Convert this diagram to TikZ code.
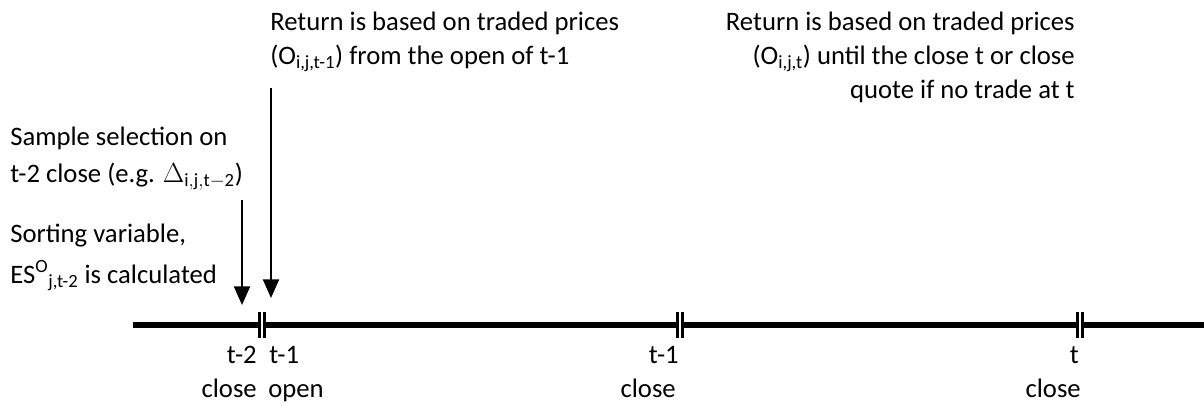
\documentclass[tikz,border=0pt]{standalone}
\usepackage{fontspec}
\setmainfont{Carlito}
\usetikzlibrary{arrows.meta}
\begin{document}
\begin{tikzpicture}[x=0.75pt, y=-0.75pt,
  txt/.style={inner sep=0pt, font=\fontsize{20}{24}\selectfont},
  pointer/.style={-{Triangle[length=14pt, width=12pt]}, line width=1.6pt},
  timeline/.style={line width=4.5pt},
  bar/.style={line width=1.8pt}
]
\useasboundingbox (0,0) rectangle (1204,405);
% time axis
\coordinate (start) at (133,325);
\coordinate (stop) at (1204,325);
\draw[timeline] (start) -- (stop);
% double ticks on the axis
\foreach \name/\x in {open/262, prevclose/680, close/1080} {
  \coordinate (\name) at (\x,325);
  \fill[white] (\x-1.2,310) rectangle (\x+1.2,340);
  \draw[bar] (\x-2.5,312) -- (\x-2.5,338);
  \draw[bar] (\x+2.5,312) -- (\x+2.5,338);
}
% labels under the axis
\node[txt, anchor=base east] (lt2) at (257,363) {t-2};
\node[txt, anchor=base east] (lc2) at (257,397) {close};
\node[txt, anchor=base west] (lt1) at (269,363) {t-1};
\node[txt, anchor=base west] (lopen) at (268,397) {open};
\node[txt, anchor=base east] (lt1c) at (679,363) {t-1};
\node[txt, anchor=base east] (lc1) at (676,397) {close};
\node[txt, anchor=base east] (lt) at (1079,363) {t};
\node[txt, anchor=base east] (lc) at (1081,397) {close};
% left notes
\node[txt, anchor=base west] (sel1) at (10,145) {Sample selection on};
\node[txt, anchor=base west] (sel2) at (10,182) {t-2 close (e.g. $\Delta_{\mathrm{i,j,t-2}}$)};
\node[txt, anchor=base west] (sort1) at (10,242) {Sorting variable,};
\node[txt, anchor=base west] (sort2) at (10,283) {ES\textsuperscript{O}\textsubscript{j,t-2} is calculated};
% notes at the top
\node[txt, anchor=base west] (ret1) at (270,30) {Return is based on traded prices};
\node[txt, anchor=base west] (ret2) at (270,64) {(O\textsubscript{i,j,t-1}) from the open of t-1};
\node[txt, anchor=base east] (end1) at (1075,30) {Return is based on traded prices};
\node[txt, anchor=base east] (end2) at (1075,64) {(O\textsubscript{i,j,t}) until the close t or close};
\node[txt, anchor=base east] (end3) at (1075,98) {quote if no trade at t};
% pointers
\coordinate (selTop) at (242,200);
\coordinate (selTip) at (242,305);
\coordinate (retTop) at (271,88);
\coordinate (retTip) at (271,298);
\draw[pointer] (selTop) -- (selTip);
\draw[pointer] (retTop) -- (retTip);
\end{tikzpicture}
\end{document}
